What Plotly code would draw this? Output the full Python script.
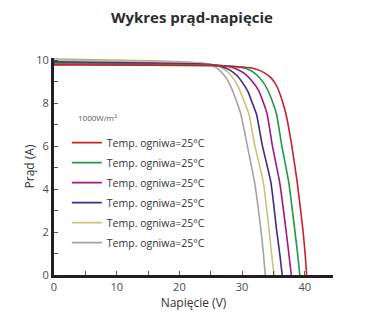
import plotly.graph_objects as go

# I-V curves, voltage (V) and current (A) samples per series
labels = ["Temp. ogniwa=25°C"] * 6
colors = ["#c7202f", "#1c9a48", "#a3177f", "#3d2b86", "#c9c27c", "#a3a3a3"]

red_v = [0, 15, 25, 30, 32, 33.5, 34.7, 35.6, 36.3, 37.0, 37.9, 38.8, 39.7, 40.05, 40.3]
red_i = [9.78, 9.76, 9.74, 9.68, 9.6, 9.42, 9.15, 8.75, 8.2, 7.48, 6.07, 4.3, 2.1, 1.0, 0]

green_v = [0, 15, 25, 29, 30.5, 32, 33.3, 34.1, 34.7, 35.5, 36.3, 37.45, 38.4, 38.85, 39.2]
green_i = [9.84, 9.8, 9.76, 9.7, 9.62, 9.4, 9.0, 8.6, 8.18, 7.48, 6.07, 4.3, 2.1, 1.0, 0]

magenta_v = [0, 15, 25, 27.5, 29, 30.5, 31.8, 32.6, 33.2, 34.0, 34.8, 36.0, 37.0, 37.45, 37.85]
magenta_i = [9.88, 9.84, 9.78, 9.72, 9.6, 9.35, 8.95, 8.6, 8.18, 7.48, 6.07, 4.3, 2.1, 1.0, 0]

purple_v = [0, 15, 25, 26.5, 28, 29.3, 30.4, 31.0, 31.4, 32.3, 33.2, 34.6, 35.5, 36.0, 36.4]
purple_i = [9.92, 9.87, 9.8, 9.72, 9.55, 9.25, 8.8, 8.5, 8.18, 7.48, 6.07, 4.3, 2.1, 1.0, 0]

yellow_v = [0, 15, 24, 26, 27.5, 28.6, 29.5, 30.2, 31.1, 32.0, 33.4, 34.3, 34.7, 35.1]
yellow_i = [10.0, 9.93, 9.84, 9.75, 9.5, 9.15, 8.7, 8.18, 7.48, 6.07, 4.3, 2.1, 1.0, 0]

gray_v = [0, 15, 23, 25, 26.5, 27.5, 28.3, 29.0, 29.8, 30.8, 32.0, 33.0, 33.4, 33.7]
gray_i = [10.05, 9.97, 9.88, 9.8, 9.5, 9.15, 8.7, 8.18, 7.48, 6.07, 4.3, 2.1, 1.0, 0]

series = [
    (red_v, red_i), (green_v, green_i), (magenta_v, magenta_i),
    (purple_v, purple_i), (yellow_v, yellow_i), (gray_v, gray_i),
]

fig = go.Figure()
# draw grey first so the red curve sits on top of the bundle
for k in reversed(range(len(series))):
    v, i = series[k]
    fig.add_trace(go.Scatter(
        x=v, y=i, mode="lines", name=labels[k],
        line=dict(color=colors[k], width=1.6, shape="spline", smoothing=0.5),
        legendrank=k + 1, legendgroup=str(k),
    ))

axis_font = dict(family="Open Sans, sans-serif", size=11, color="#4a4a4a")

fig.update_layout(
    width=367, height=324,
    margin=dict(l=54, r=34, t=58, b=49),
    paper_bgcolor="white", plot_bgcolor="white",
    title=dict(text="<b>Wykres prąd-napięcie</b>", x=0.523, xanchor="center",
               y=0.945, yanchor="middle",
               font=dict(family="Open Sans, sans-serif", size=15, color="#2b2b2b")),
    font=axis_font,
    showlegend=True,
    legend=dict(x=0.046, y=0.677, xanchor="left", yanchor="top",
                bgcolor="rgba(0,0,0,0)", itemwidth=30,
                font=dict(family="Open Sans, sans-serif", size=10.5, color="#333333"),
                tracegroupgap=1, traceorder="grouped"),
    annotations=[dict(text="1000W/m<sup>2</sup>", xref="paper", yref="paper",
                      x=0.08, y=0.728, xanchor="left", yanchor="middle", showarrow=False,
                      font=dict(family="Open Sans, sans-serif", size=8, color="#555555"))],
)

fig.update_xaxes(
    range=[0, 44.5], dtick=10, tick0=0,
    showline=True, linecolor="#231f20", linewidth=3,
    ticks="inside", ticklen=4, tickcolor="#555555",
    minor=dict(dtick=5, ticks="inside", ticklen=4, tickcolor="#555555"),
    showgrid=False, zeroline=False,
    title=dict(text="Napięcie (V)", font=dict(family="Open Sans, sans-serif", size=12, color="#333333"), standoff=6),
)
fig.update_yaxes(
    range=[0, 10.1], dtick=2, tick0=0,
    showline=True, linecolor="#231f20", linewidth=3,
    ticks="inside", ticklen=4, tickcolor="#555555",
    minor=dict(dtick=1, ticks="inside", ticklen=4, tickcolor="#555555"),
    showgrid=False, zeroline=False,
    title=dict(text="Prąd (A)", font=dict(family="Open Sans, sans-serif", size=12, color="#333333"), standoff=0),
)

fig.write_html("out.html")
